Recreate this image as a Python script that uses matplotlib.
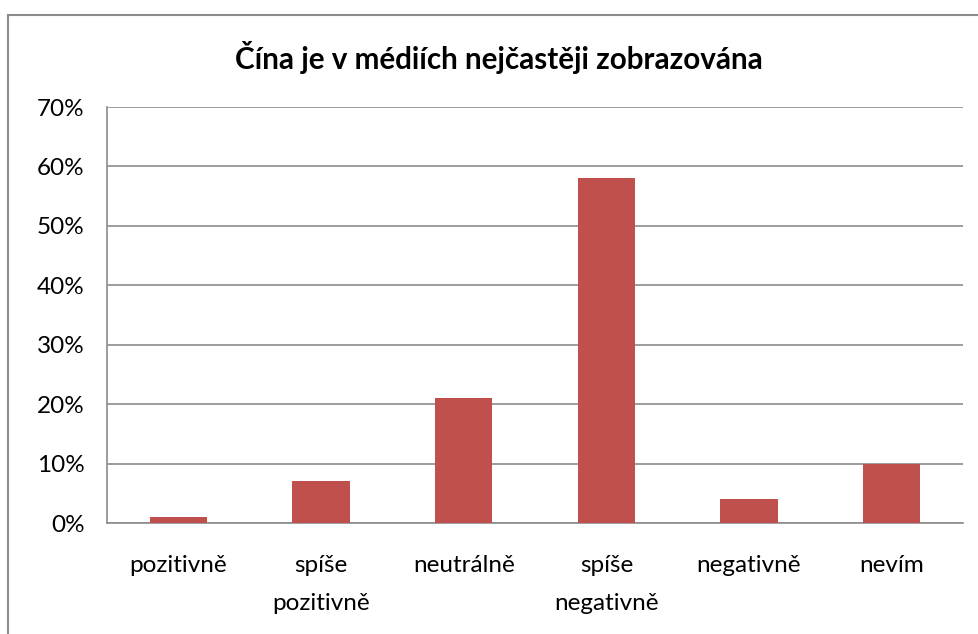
import matplotlib
matplotlib.use("Agg")
import matplotlib.pyplot as plt
from matplotlib.patches import Rectangle
from matplotlib.ticker import FuncFormatter

categories = ["pozitivně", "spíše\npozitivně", "neutrálně", "spíše\nnegativně", "negativně", "nevím"]
values = [0.01, 0.07, 0.21, 0.58, 0.04, 0.10]
title = "Čína je v médiích nejčastěji zobrazována"

plt.rcParams['font.family'] = ['Lato', 'DejaVu Sans']

W, H = 979, 634
fig = plt.figure(figsize=(W / 100, H / 100), dpi=100)
fig.patch.set_facecolor("white")

# outer chart border
fig.patches.append(Rectangle((8 / W, -0.1), 2.0, (H - 15) / H + 0.1, transform=fig.transFigure,
                             fill=False, edgecolor="#8c8c8c", linewidth=1.5, zorder=0))

ax = fig.add_axes([107 / W, (H - 523) / H, (963 - 107) / W, (523 - 107) / H])
x = list(range(len(categories)))
ax.bar(x, values, width=0.4, color="#C0504D", zorder=3)
ax.set_xlim(-0.5, len(categories) - 0.5)
ax.set_ylim(0, 0.70)
ax.set_yticks([i / 10 for i in range(8)])
ax.yaxis.set_major_formatter(FuncFormatter(lambda v, p: f"{round(v * 100)}%"))
ax.set_xticks(x)
ax.set_xticklabels(categories, fontsize=17.5, linespacing=2.0)
ax.tick_params(axis="y", labelsize=17.5, length=0, pad=16)
ax.tick_params(axis="x", length=0, pad=23)
ax.grid(axis="y", color="#8c8c8c", linewidth=1.2, zorder=0)
for s in ["top", "right"]:
    ax.spines[s].set_visible(False)
for s in ["left", "bottom"]:
    ax.spines[s].set_color("#8c8c8c")
    ax.spines[s].set_linewidth(1.2)

fig.text(499 / W, 1 - 57 / H, title, ha="center", va="center", fontsize=21.3, fontweight="bold")

fig.savefig("out.png", dpi=100)
